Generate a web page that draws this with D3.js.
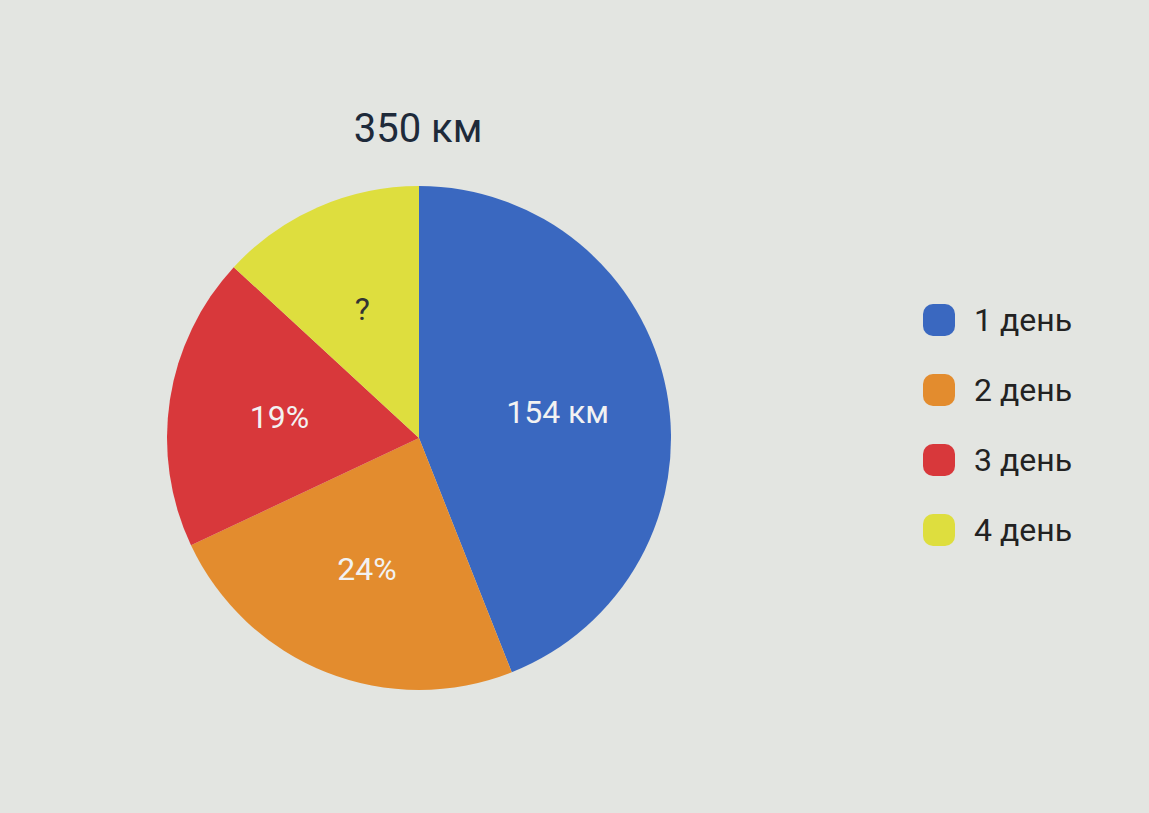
<!DOCTYPE html>
<html>
<head>
<meta charset="utf-8">
<script src="https://cdn.jsdelivr.net/npm/d3@7"></script>
<style>
  body { margin: 0; background: #e3e5e1; }
  svg { display: block; }
</style>
</head>
<body>
<svg id="chart" width="1149" height="813"></svg>
<script>
// data
var title = '350 км';
var days = ['1 день', '2 день', '3 день', '4 день'];
var km = [154, 84, 66, 46];
var sliceLabels = ['154 км', '24%', '19%', '?'];
var colors = ['#3a68c0', '#e38c2e', '#d8383b', '#dede3e'];
var labelColors = ['#f2f2f2', '#f2f2f2', '#f2f2f2', '#333333'];

var svg = d3.select('#chart');
var cx = 419, cy = 438, r = 252;

svg.append('text')
    .attr('x', 418)
    .attr('y', 142)
    .attr('text-anchor', 'middle')
    .style('font-family', 'Roboto, Arial, sans-serif')
    .style('font-size', '40px')
    .style('fill', '#1e2a3a')
    .text(title);

var pie = d3.pie().sort(null).value(function(d) { return d; });
var arcs = pie(km);
var arc = d3.arc().innerRadius(0).outerRadius(r);
var labelArc = d3.arc().innerRadius(r * 0.56).outerRadius(r * 0.56);

var g = svg.append('g').attr('transform', 'translate(' + cx + ',' + cy + ')');

g.selectAll('path')
    .data(arcs)
    .enter()
    .append('path')
    .attr('d', arc)
    .attr('fill', function(d, i) { return colors[i]; });

g.selectAll('text')
    .data(arcs)
    .enter()
    .append('text')
    .attr('transform', function(d) { return 'translate(' + labelArc.centroid(d) + ')'; })
    .attr('text-anchor', 'middle')
    .attr('dy', '0.35em')
    .style('font-family', 'Roboto, Arial, sans-serif')
    .style('font-size', '32px')
    .style('fill', function(d, i) { return labelColors[i]; })
    .text(function(d, i) { return sliceLabels[i]; });

// legend
var legendY = d3.scalePoint().domain(days).range([320, 530]);

var legend = svg.append('g')
    .selectAll('g')
    .data(days)
    .enter()
    .append('g')
    .attr('transform', function(d) { return 'translate(939,' + legendY(d) + ')'; });

legend.append('rect')
    .attr('x', -16).attr('y', -16)
    .attr('width', 32).attr('height', 32)
    .attr('rx', 10)
    .attr('fill', function(d, i) { return colors[i]; });

legend.append('text')
    .attr('x', 35)
    .attr('dy', '0.35em')
    .style('font-family', 'Roboto, Arial, sans-serif')
    .style('font-size', '32px')
    .style('fill', '#222')
    .text(function(d) { return d; });
</script>
</body>
</html>
